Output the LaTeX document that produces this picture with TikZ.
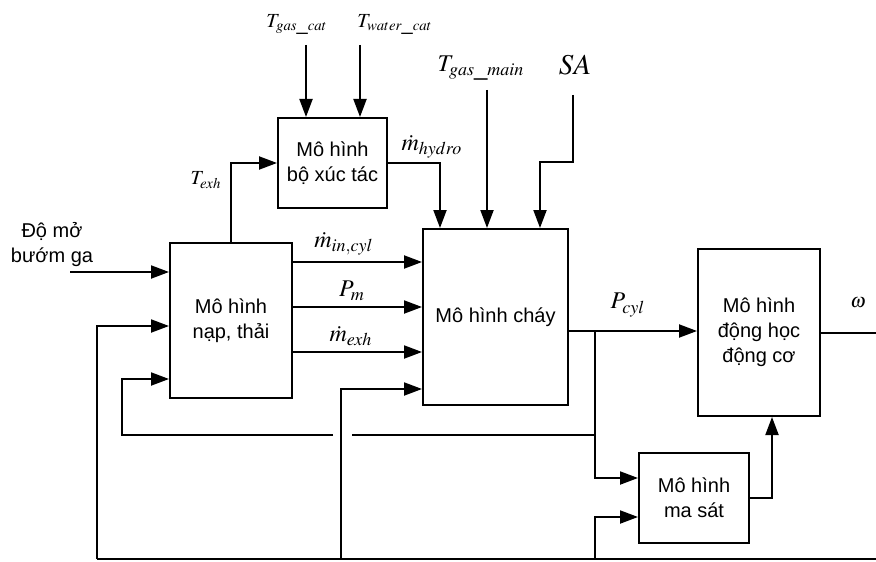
\documentclass[tikz,border=0pt]{standalone}
\usepackage{mathptmx}
\usepackage[no-math]{fontspec}
\setmainfont{Liberation Sans}
\usetikzlibrary{arrows.meta, calc, positioning}

\begin{document}
\begin{tikzpicture}[x=0.5pt, y=-0.5pt, line width=1pt,
    >={Triangle[length=9pt, width=6.5pt]},
    khoi/.style={draw, line width=1pt, inner sep=0pt, align=center, font=\fontsize{10}{12.5}\selectfont},
    nhan/.style={inner sep=0pt, font=\large}]
    \useasboundingbox (0,0) rectangle (876,561);
    % cac khoi
    \node[khoi, minimum width=54.5pt, minimum height=45pt] (xuctac) at (332.5,163) {Mô hình\\bộ xúc tác};
    \node[khoi, minimum width=61pt, minimum height=77.5pt] (napthai) at (231,320.5) {Mô hình\\nạp, thải};
    \node[khoi, minimum width=72.5pt, minimum height=88pt] (chay) at (495.5,317) {Mô hình cháy};
    \node[khoi, minimum width=61pt, minimum height=83.5pt] (donghoc) at (759,332.5) {Mô hình\\động học\\động cơ};
    \node[khoi, minimum width=55pt, minimum height=45pt] (masat) at (694,498) {Mô hình\\ma sát};
    % nhan
    \node[nhan, font=\normalsize] (lgc) at (297,25) {$T_{gas\_cat}$};
    \node[nhan, font=\normalsize] (lwc) at (395,25) {$T_{water\_cat}$};
    \node[nhan] (lgm) at (481,68) {$T_{gas\_main}$};
    \node[nhan, font=\Large] (lsa) at (575,65) {$SA$};
    \node[nhan, font=\normalsize] (lexh) at (206,180) {$T_{exh}$};
    \node[nhan] (lhy) at (432,147) {$\dot{m}_{hydro}$};
    \node[nhan] (lin) at (344,244) {$\dot{m}_{in,cyl}$};
    \node[nhan] (lpm) at (352,291) {$P_{m}$};
    \node[nhan] (lmex) at (351,336) {$\dot{m}_{exh}$};
    \node[nhan] (lpc) at (628,305) {$P_{cyl}$};
    \node[nhan, font=\normalsize] (lw) at (858,303) {$\omega$};
    \node[align=center, inner sep=0pt, font=\fontsize{10}{12.5}\selectfont] (ldm) at (52,245) {Độ mở\\bướm ga};
    % diem dau, re nhanh
    \coordinate (tgc) at (306,45);
    \coordinate (twc) at (360,45);
    \coordinate (tgm) at (487,90);
    \coordinate (sa) at (573,95);
    \coordinate (dm) at (70,272);
    \coordinate (pc) at (595,331);
    \coordinate (fb) at (595,435);
    \coordinate (hop) at (341,435);
    \coordinate (wout) at (876,332.5);
    \coordinate (b1) at (97,559);
    \coordinate (b2) at (341,559);
    \coordinate (b3) at (595,559);
    \coordinate (b4) at (876,559);
    \coordinate (min) at ($(napthai.north east)+(0,20)$);
    \coordinate (pm) at ($(napthai.north east)+(0,65)$);
    \coordinate (mex) at ($(napthai.north east)+(0,110)$);
    % khoi xuc tac
    \draw[->] (tgc) -- (tgc |- xuctac.north);
    \draw[->] (twc) -- (twc |- xuctac.north);
    \draw[->] (napthai.north) |- (xuctac.west);
    \draw[->] (xuctac.east) -| ($(chay.north west)+(18,0)$);
    % dau vao khoi chay
    \draw[->] (tgm) -- (tgm |- chay.north);
    \draw[->] (sa) |- ($(chay.north west)+(118,-66)$) -- ($(chay.north west)+(118,0)$);
    \draw[->] (dm) -- (dm -| napthai.west);
    \draw[->] (min) -- (min -| chay.west);
    \draw[->] (pm) -- (pm -| chay.west);
    \draw[->] (mex) -- (mex -| chay.west);
    % P_cyl va hoi tiep
    \draw[->] (chay.east |- pc) -- (donghoc.west |- pc);
    \draw[->] (pc) |- ($(masat.west)+(0,-20)$);
    \draw (fb) -- ($(hop)+(11,0)$);
    \draw[->] ($(hop)+(-8,0)$) -| ($(napthai.south west)+(-47,-20)$) -- ($(napthai.south west)+(0,-20)$);
    \draw[->] (masat.east) -| ($(donghoc.south)+(13,0)$);
    \draw (donghoc.east) -- (wout);
    % duong duoi cung
    \draw (b1) -- (b4);
    \draw[->] (b1) |- ($(napthai.north west)+(0,84)$);
    \draw[->] (b2) |- ($(chay.north west)+(0,161)$);
    \draw[->] (b3) |- ($(masat.west)+(0,19)$);
\end{tikzpicture}
\end{document}
